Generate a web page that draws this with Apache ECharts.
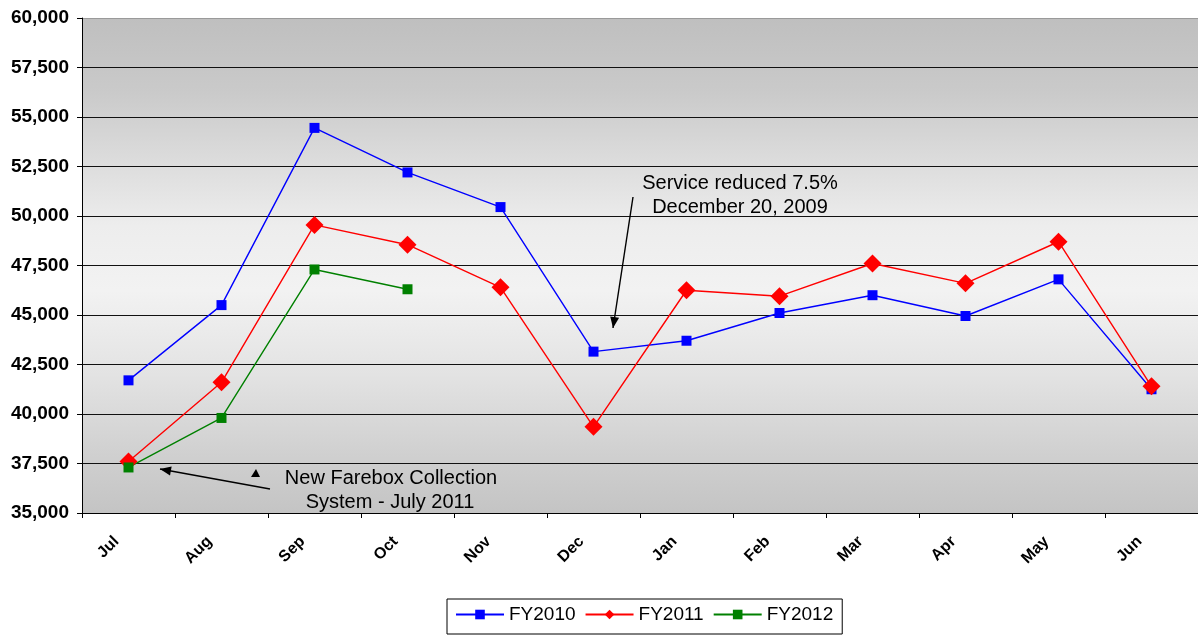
<!DOCTYPE html>
<html>
<head>
<meta charset="utf-8">
<script src="https://cdn.jsdelivr.net/npm/echarts@6/dist/echarts.min.js"></script>
<style>
html,body{margin:0;padding:0;background:#fff;}
#c{width:1198px;height:635px;}
</style>
</head>
<body>
<div id="c"></div>
<script>
const months = ['Jul','Aug','Sep','Oct','Nov','Dec','Jan','Feb','Mar','Apr','May','Jun'];
const fy2010 = [41700, 45500, 54450, 52200, 50450, 43150, 43700, 45100, 46000, 44950, 46800, 41250];
const fy2011 = [37600, 41600, 49550, 48550, 46400, 39350, 46250, 45950, 47600, 46600, 48700, 41400];
const fy2012 = [37300, 39800, 47300, 46300];
const yMin = 35000, yMax = 60000, yStep = 2500;

const FONT = '"Liberation Sans", Arial, sans-serif';
const chart = echarts.init(document.getElementById('c'), null, {renderer:'canvas'});

const gridLineColors = [];
for (let v = yMin; v <= yMax; v += yStep) gridLineColors.push(v === yMax ? '#9a9a9a' : '#111111');

function arrowHead(tip, from, len, half) {
  const dx = tip[0]-from[0], dy = tip[1]-from[1];
  const L = Math.sqrt(dx*dx+dy*dy), ux = dx/L, uy = dy/L;
  const bx = tip[0]-ux*len, by = tip[1]-uy*len;
  return [tip, [bx - uy*half, by + ux*half], [bx + uy*half, by - ux*half]];
}

const a1tail=[633,197], a1tip=[613,328];
const a2tail=[270,489], a2tip=[160,469];

chart.setOption({
  animation:false,
  backgroundColor:'#ffffff',
  textStyle:{fontFamily:FONT},
  grid:{
    left:82, top:18, right:-4, bottom:122, containLabel:false, show:true,
    borderWidth:0,
    backgroundColor:{type:'linear',x:0,y:0,x2:0,y2:1,colorStops:[
      {offset:0,color:'#bfbfbf'},
      {offset:0.15,color:'#cacaca'},
      {offset:0.42,color:'#ededed'},
      {offset:0.55,color:'#f2f2f2'},
      {offset:0.72,color:'#e3e3e3'},
      {offset:0.88,color:'#d0d0d0'},
      {offset:1,color:'#c4c4c4'}]}
  },
  legend:{
    left:447, top:599,
    padding:[6,9,10,8],
    borderColor:'#000', borderWidth:1,
    backgroundColor:'#fff',
    itemGap:9, itemWidth:48, itemHeight:12,
    textStyle:{fontSize:19, color:'#000', fontFamily:FONT},
    data:['FY2010','FY2011','FY2012']
  },
  xAxis:{
    type:'category', data:months, boundaryGap:true,
    axisLine:{show:true, lineStyle:{color:'#000', width:1}},
    axisTick:{show:true, length:5, lineStyle:{color:'#000'}},
    axisLabel:{rotate:45, fontSize:16, fontWeight:'bold', color:'#000', margin:14, padding:[0,17,0,0], fontFamily:FONT},
    splitLine:{show:false}
  },
  yAxis:{
    type:'value', min:yMin, max:yMax, interval:yStep,
    axisLine:{show:true, lineStyle:{color:'#000', width:1}},
    axisTick:{show:true, length:5, lineStyle:{color:'#000'}},
    axisLabel:{fontSize:19, fontWeight:'bold', color:'#000', margin:13, fontFamily:FONT,
      formatter:v=>v.toLocaleString('en-US')},
    splitLine:{show:true, lineStyle:{color:gridLineColors, width:1}}
  },
  series:[
    {name:'FY2010', type:'line', data:fy2010, symbol:'rect', symbolSize:10,
      color:'#0000ff', lineStyle:{width:1.4, color:'#0000ff'}, itemStyle:{color:'#0000ff'}},
    {name:'FY2011', type:'line', data:fy2011, symbol:'diamond', symbolSize:18,
      color:'#ff0000', lineStyle:{width:1.4, color:'#ff0000'}, itemStyle:{color:'#ff0000'}},
    {name:'FY2012', type:'line', data:fy2012, symbol:'rect', symbolSize:10,
      color:'#008000', lineStyle:{width:1.4, color:'#008000'}, itemStyle:{color:'#008000'}}
  ],
  graphic:[
    {type:'text', x:740, y:183, z:100, style:{text:'Service reduced 7.5%', font:'20px '+FONT, fill:'#000', textAlign:'center', textVerticalAlign:'middle'}},
    {type:'text', x:740, y:207, z:100, style:{text:'December 20, 2009', font:'20px '+FONT, fill:'#000', textAlign:'center', textVerticalAlign:'middle'}},
    {type:'line', z:100, shape:{x1:a1tail[0], y1:a1tail[1], x2:a1tip[0], y2:a1tip[1]}, style:{stroke:'#000', lineWidth:1.4}},
    {type:'polygon', z:100, shape:{points:arrowHead(a1tip,a1tail,11,4.5)}, style:{fill:'#000'}},
    {type:'text', x:391, y:478, z:100, style:{text:'New Farebox Collection', font:'20px '+FONT, fill:'#000', textAlign:'center', textVerticalAlign:'middle'}},
    {type:'text', x:390, y:502, z:100, style:{text:'System - July 2011', font:'20px '+FONT, fill:'#000', textAlign:'center', textVerticalAlign:'middle'}},
    {type:'line', z:100, shape:{x1:a2tail[0], y1:a2tail[1], x2:a2tip[0], y2:a2tip[1]}, style:{stroke:'#000', lineWidth:1.4}},
    {type:'polygon', z:100, shape:{points:arrowHead(a2tip,a2tail,11,4.5)}, style:{fill:'#000'}},
    {type:'polygon', z:100, shape:{points:[[256,469],[251,477],[260,477]]}, style:{fill:'#000'}}
  ]
});
</script>
</body>
</html>
